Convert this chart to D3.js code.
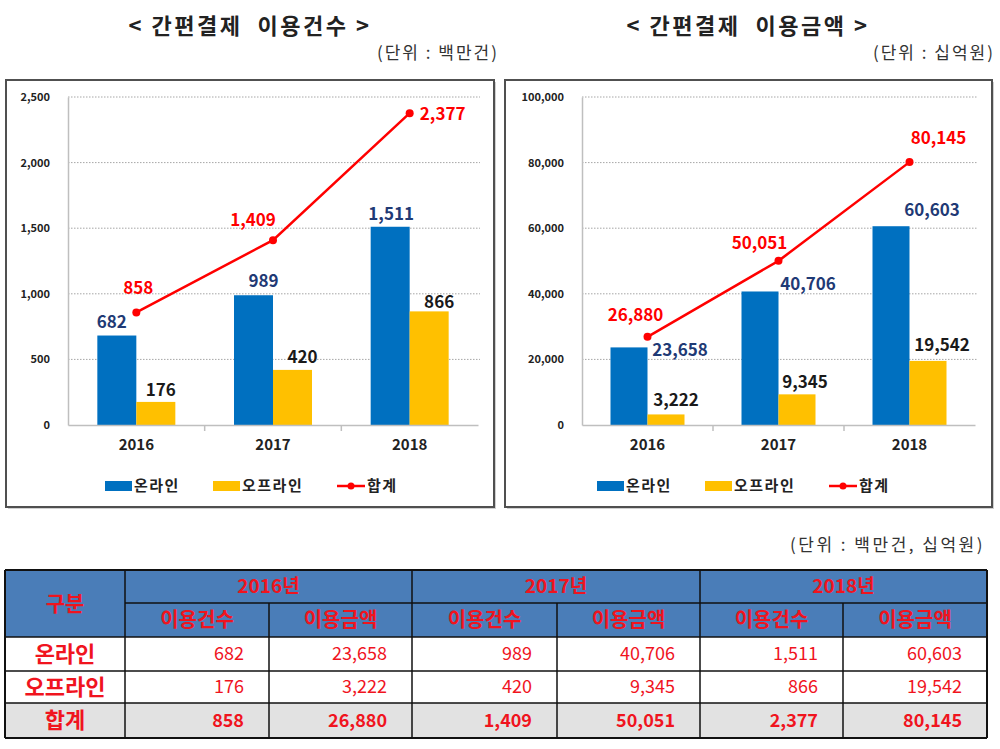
<!DOCTYPE html>
<html><head><meta charset="utf-8">
<script src="https://cdn.jsdelivr.net/npm/d3@7/dist/d3.min.js"></script>
<style>
html,body{margin:0;padding:0;background:#fff;}
svg{display:block;font-family:"Noto Sans CJK KR","Noto Sans",sans-serif;}
text{font-family:"Noto Sans CJK KR","Noto Sans",sans-serif;}
</style></head>
<body>
<svg id="c" width="1000" height="749"></svg>
<script>
// ---- data ----
const years = ["2016", "2017", "2018"];
const countOnline = [682, 989, 1511];
const countOffline = [176, 420, 866];
const countTotal = [858, 1409, 2377];
const amountOnline = [23658, 40706, 60603];
const amountOffline = [3222, 9345, 19542];
const amountTotal = [26880, 50051, 80145];
const countTicks = [0, 500, 1000, 1500, 2000, 2500];
const amountTicks = [0, 20000, 40000, 60000, 80000, 100000];
const seriesNames = ["온라인", "오프라인", "합계"];
const tableYears = ["2016년", "2017년", "2018년"];
const tableSubHeads = ["이용건수", "이용금액"];
const titleCount = "< 간편결제  이용건수 >";
const titleAmount = "< 간편결제  이용금액 >";
const unitCount = "(단위 : 백만건)";
const unitAmount = "(단위 : 십억원)";
const unitTable = "(단위 : 백만건, 십억원)";

// ---- style ----
const BLUE = "#0070c0", YELLOW = "#ffc000", RED = "#ff0000", NAVY = "#1f3a75";
const fmt = d3.format(",");
const svg = d3.select("#c");

function drawChart(cfg) {
  const g = svg.append("g");
  // frame
  g.append("rect").attr("x", cfg.frame[0] + 2).attr("y", cfg.frame[1] + 2)
    .attr("width", cfg.frame[2] - cfg.frame[0]).attr("height", cfg.frame[3] - cfg.frame[1])
    .attr("fill", "#d0d0d0");
  g.append("rect").attr("x", cfg.frame[0]).attr("y", cfg.frame[1])
    .attr("width", cfg.frame[2] - cfg.frame[0]).attr("height", cfg.frame[3] - cfg.frame[1])
    .attr("fill", "#fff").attr("stroke", "#505050").attr("stroke-width", 2);
  // title
  g.append("text").attr("x", cfg.titleX).attr("y", 34).attr("text-anchor", "middle")
    .attr("font-size", 22).attr("font-weight", "bold").attr("fill", "#222")
    .attr("letter-spacing", 2.5).attr("xml:space", "preserve").style("white-space", "pre").text(cfg.title);
  g.append("text").attr("x", cfg.unitX + 2).attr("y", 59).attr("text-anchor", "end")
    .attr("font-size", 17).attr("letter-spacing", 2).attr("fill", "#333").text(cfg.unit);

  const x = d3.scaleBand().domain(years).range([cfg.x0, cfg.x1]);
  const y = d3.scaleLinear().domain([0, cfg.ticks[cfg.ticks.length - 1]]).range([425, 97]);
  const bw = cfg.bw;
  const cx = d => x(d) + x.bandwidth() / 2;

  // gridlines
  g.append("g").selectAll("line").data(cfg.ticks.slice(1)).join("line")
    .attr("x1", cfg.x0).attr("x2", cfg.x1 + 2)
    .attr("y1", d => y(d)).attr("y2", d => y(d))
    .attr("stroke", "#a6a6a6").attr("stroke-width", 1).attr("stroke-dasharray", "1.5,1.5");
  // y axis
  const ya = g.append("g").attr("transform", `translate(${cfg.x0},0)`)
    .call(d3.axisLeft(y).tickValues(cfg.ticks).tickSize(0).tickPadding(18).tickFormat(fmt));
  ya.select(".domain").attr("stroke", "#bfbfbf").attr("stroke-width", 1.5);
  ya.selectAll("text").attr("font-size", 11).attr("font-weight", "bold").attr("fill", "#222")
    .attr("font-family", "'Noto Sans CJK KR',sans-serif");

  // bars
  g.append("g").selectAll("rect").data(years).join("rect")
    .attr("x", d => cx(d) - bw).attr("width", bw)
    .attr("y", (d, i) => y(cfg.online[i])).attr("height", (d, i) => y(0) - y(cfg.online[i]))
    .attr("fill", BLUE);
  g.append("g").selectAll("rect").data(years).join("rect")
    .attr("x", d => cx(d)).attr("width", bw)
    .attr("y", (d, i) => y(cfg.offline[i])).attr("height", (d, i) => y(0) - y(cfg.offline[i]))
    .attr("fill", YELLOW);

  // x axis
  const xa = g.append("g").attr("transform", `translate(0,425)`)
    .call(d3.axisBottom(x).tickSize(0).tickPadding(14));
  xa.select(".domain").attr("stroke", "#bfbfbf").attr("stroke-width", 1.5);
  xa.selectAll("text").attr("font-size", 15).attr("font-weight", "bold").attr("fill", "#222")
    .attr("font-family", "'Noto Sans CJK KR',sans-serif");
  g.append("g").selectAll("line").data(years.slice(1)).join("line")
    .attr("x1", d => x(d)).attr("x2", d => x(d)).attr("y1", 425).attr("y2", 431)
    .attr("stroke", "#bfbfbf").attr("stroke-width", 1.5);

  // total line
  const line = d3.line().x((d, i) => cx(years[i])).y(d => y(d));
  g.append("path").datum(cfg.total).attr("d", line).attr("fill", "none")
    .attr("stroke", RED).attr("stroke-width", 2.5);
  g.append("g").selectAll("circle").data(cfg.total).join("circle")
    .attr("cx", (d, i) => cx(years[i])).attr("cy", d => y(d)).attr("r", 4).attr("fill", RED);

  // labels
  const lab = (vals, offs, color, xref) => {
    g.append("g").selectAll("text").data(vals).join("text")
      .attr("x", (d, i) => xref(years[i]) + offs[i][0])
      .attr("y", (d, i) => y(d) + offs[i][1])
      .attr("dy", "0.35em").attr("text-anchor", "middle")
      .attr("font-size", 17).attr("font-weight", "bold").attr("fill", color)
      .text(fmt);
  };
  lab(cfg.online, cfg.onOff, NAVY, d => cx(d) - bw / 2);
  lab(cfg.offline, cfg.offOff, "#1a1a1a", d => cx(d) + bw / 2);
  lab(cfg.total, cfg.totOff, RED, cx);

  // legend
  const L = cfg.legX, ly = 486;
  const lg = g.append("g");
  lg.append("rect").attr("x", L).attr("y", ly - 5).attr("width", 27).attr("height", 10).attr("fill", BLUE);
  lg.append("rect").attr("x", L + 108).attr("y", ly - 5).attr("width", 27).attr("height", 10).attr("fill", YELLOW);
  lg.append("line").attr("x1", L + 232).attr("x2", L + 260).attr("y1", ly).attr("y2", ly)
    .attr("stroke", RED).attr("stroke-width", 2.5);
  lg.append("circle").attr("cx", L + 246).attr("cy", ly).attr("r", 3.5).attr("fill", RED);
  lg.selectAll("text").data(seriesNames).join("text")
    .attr("x", (d, i) => L + [29, 137, 262][i]).attr("y", ly).attr("dy", "0.36em")
    .attr("font-size", 15).attr("letter-spacing", 1.5).attr("font-weight", "bold").attr("fill", "#222").text(d => d);
}

drawChart({
  frame: [6, 80, 494, 507], title: titleCount, titleX: 250, unit: unitCount, unitX: 497,
  x0: 68, x1: 478, bw: 39, ticks: countTicks,
  online: countOnline, offline: countOffline, total: countTotal,
  onOff: [[-5, -13], [10, -14], [1, -13]],
  offOff: [[5, -12], [10, -13], [10, -9]],
  totOff: [[2, -24], [-20, -20], [33, 1]],
  legX: 105
});
drawChart({
  frame: [505, 80, 992, 507], title: titleAmount, titleX: 748, unit: unitAmount, unitX: 993,
  x0: 582, x1: 975, bw: 37, ticks: amountTicks,
  online: amountOnline, offline: amountOffline, total: amountTotal,
  onOff: [[51, 3], [48, -7], [41, -16]],
  offOff: [[10, -14], [8, -12], [14, -16]],
  totOff: [[-12, -22], [-19, -18], [29, -24]],
  legX: 597
});

// ---- table ----
const cols = [5, 125, 269, 412, 557, 700, 843, 987];
const rows = [570, 603, 637, 671, 703, 738];
const T = svg.append("g");
T.append("text").attr("x", 985).attr("y", 545).attr("dy", "0.35em").attr("text-anchor", "end")
  .attr("font-size", 17).attr("letter-spacing", 2.5).attr("fill", "#333").text(unitTable);
// fills
T.append("rect").attr("x", cols[0]).attr("y", rows[0]).attr("width", cols[7] - cols[0])
  .attr("height", rows[2] - rows[0]).attr("fill", "#4a7db8");
T.append("rect").attr("x", cols[0]).attr("y", rows[4]).attr("width", cols[7] - cols[0])
  .attr("height", rows[5] - rows[4]).attr("fill", "#e2e2e2");
// grid lines
const hl = [[rows[0], 0, 7], [rows[1], 1, 7], [rows[2], 0, 7], [rows[3], 0, 7], [rows[4], 0, 7], [rows[5], 0, 7]];
T.append("g").selectAll("line").data(hl).join("line")
  .attr("x1", d => cols[d[1]]).attr("x2", d => cols[d[2]]).attr("y1", d => d[0]).attr("y2", d => d[0])
  .attr("stroke", "#111").attr("stroke-width", (d, i) => (i === 0 || i === 5) ? 2 : 1.5);
const vl = [[0, 0], [1, 0], [2, 1], [3, 0], [4, 1], [5, 0], [6, 1], [7, 0]];
T.append("g").selectAll("line").data(vl).join("line")
  .attr("x1", d => cols[d[0]]).attr("x2", d => cols[d[0]]).attr("y1", d => rows[d[1]]).attr("y2", rows[5])
  .attr("stroke", "#111").attr("stroke-width", (d, i) => (i === 0 || i === 7) ? 2 : 1.5);
// header text
const tx = (x, y, s, opt) => T.append("text").attr("x", x).attr("y", y).attr("dy", "0.36em")
  .attr("text-anchor", opt.anchor || "middle").attr("font-size", opt.size || 18)
  .attr("font-family", opt.fam || "'Noto Sans CJK KR',sans-serif")
  .attr("font-weight", opt.bold ? "bold" : "normal").attr("fill", "#f0141e").text(s);
tx((cols[0] + cols[1]) / 2, (rows[0] + rows[2]) / 2, "구분", { bold: true, size: 21 });
tableYears.forEach((yr, i) => {
  tx((cols[1 + 2 * i] + cols[3 + 2 * i]) / 2, (rows[0] + rows[1]) / 2, yr,
    { bold: true, size: 19, fam: "'Noto Sans','Noto Sans CJK KR',sans-serif" });
  tableSubHeads.forEach((h, j) => {
    tx((cols[1 + 2 * i + j] + cols[2 + 2 * i + j]) / 2, (rows[1] + rows[2]) / 2, h, { bold: true, size: 20 });
  });
});
const tableRows = [
  [countOnline, amountOnline],
  [countOffline, amountOffline],
  [countTotal, amountTotal]
];
tableRows.forEach((r, k) => {
  const yc = (rows[2 + k] + rows[3 + k]) / 2;
  tx((cols[0] + cols[1]) / 2, yc, seriesNames[k], { bold: true, size: 22 });
  years.forEach((yr, i) => {
    [r[0][i], r[1][i]].forEach((v, j) => {
      tx(cols[2 + 2 * i + j] - 25, yc, fmt(v), { anchor: "end", bold: k === 2, size: 18 });
    });
  });
});
</script>
</body></html>
